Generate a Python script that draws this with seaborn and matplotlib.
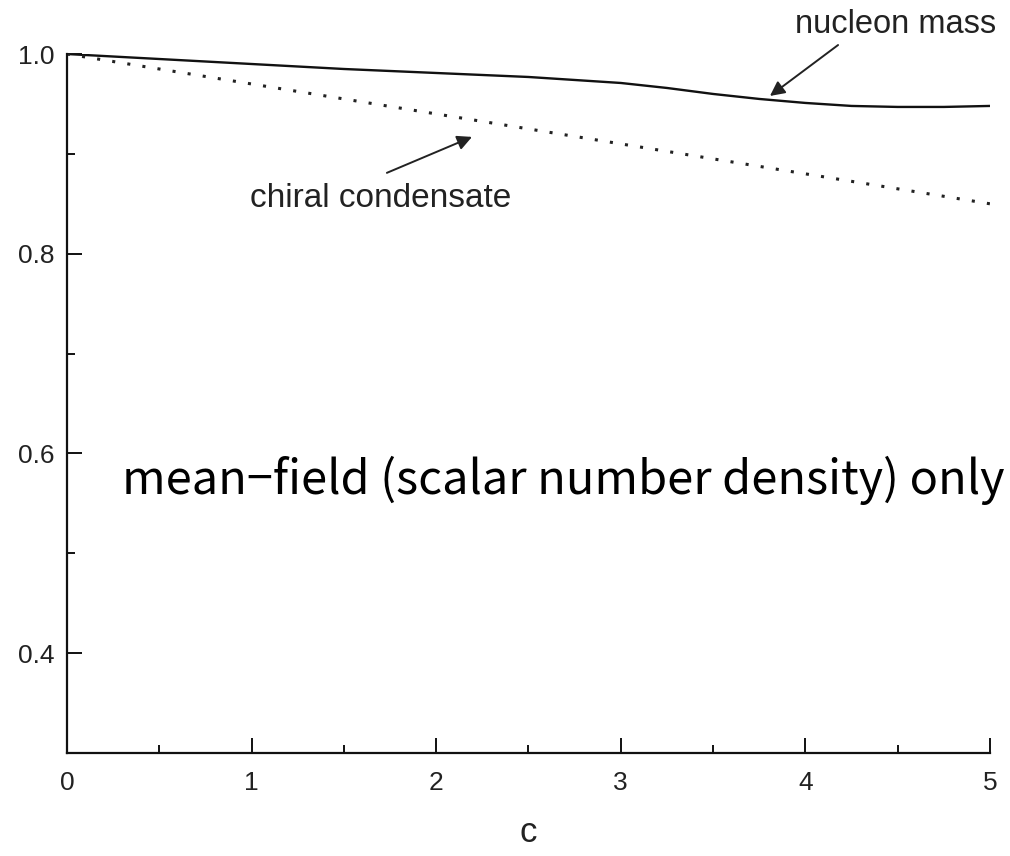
import matplotlib
matplotlib.use("Agg")
import matplotlib.pyplot as plt
from matplotlib.ticker import MultipleLocator
import seaborn as sns
import pandas as pd

# Nucleon mass ratio vs. c (solid curve)
c_mass = [0.0, 0.5, 1.0, 1.5, 2.0, 2.5, 3.0, 3.25, 3.5, 3.75, 4.0, 4.25, 4.5, 4.75, 5.0]
nucleon_mass = [1.000, 0.995, 0.990, 0.985, 0.981, 0.977, 0.971, 0.966, 0.960,
                0.955, 0.951, 0.948, 0.947, 0.947, 0.948]

# Chiral condensate ratio vs. c (dotted curve)
c_cond = [0.0, 1.0, 2.0, 3.0, 4.0, 5.0]
chiral_condensate = [1.000, 0.970, 0.940, 0.910, 0.880, 0.850]

x_ticks = [0, 1, 2, 3, 4, 5]
y_ticks = [0.4, 0.6, 0.8, 1.0]
y_tick_labels = ["0.4", "0.6", "0.8", "1.0"]

sns.set_style("ticks")
plt.rcParams["font.family"] = ["Liberation Sans", "DejaVu Sans"]

fig = plt.figure(figsize=(10.1, 8.56), dpi=100)
ax = fig.add_axes([0.0663, 0.1203, 0.9139, 0.8166])

df_mass = pd.DataFrame({"c": c_mass, "ratio": nucleon_mass})
df_cond = pd.DataFrame({"c": c_cond, "ratio": chiral_condensate})

sns.lineplot(data=df_mass, x="c", y="ratio", ax=ax, color="#111111",
             linewidth=1.7, solid_capstyle="butt")
sns.lineplot(data=df_cond, x="c", y="ratio", ax=ax, color="#222222",
             linewidth=2.2, linestyle=(0, (1, 4)))

ax.set_xlim(0, 5)
ax.set_ylim(0.3, 1.0)
ax.set_xticks(x_ticks)
ax.set_xticklabels([str(t) for t in x_ticks])
ax.set_yticks(y_ticks)
ax.set_yticklabels(y_tick_labels)
ax.xaxis.set_minor_locator(MultipleLocator(0.5))
ax.yaxis.set_minor_locator(MultipleLocator(0.1))

sns.despine(ax=ax)
for side in ("left", "bottom"):
    ax.spines[side].set_linewidth(1.6)
    ax.spines[side].set_color("#111111")

ax.tick_params(which="major", direction="in", length=10.5, width=1.4,
               colors="#111111", labelsize=19, labelcolor="#222222")
ax.tick_params(which="minor", direction="in", length=6, width=1.4,
               colors="#111111")
ax.tick_params(axis="x", which="major", pad=13)
ax.tick_params(axis="y", which="major", pad=9)

ax.set_xlabel("c", fontsize=25, color="#222222", labelpad=15)
ax.set_ylabel("")

# Curve labels with arrows
ax.text(3.944, 1.021, "nucleon mass", fontsize=23.5, color="#222222",
        ha="left", va="baseline", clip_on=False)
ax.annotate("", xy=(3.808, 0.958), xytext=(4.177, 1.009),
            arrowprops=dict(arrowstyle="-|>", color="#222222", lw=1.4,
                            mutation_scale=22, shrinkA=0, shrinkB=0),
            annotation_clip=False)

ax.text(0.991, 0.847, "chiral condensate", fontsize=24, color="#222222",
        ha="left", va="baseline")
ax.annotate("", xy=(2.194, 0.917), xytext=(1.733, 0.881),
            arrowprops=dict(arrowstyle="-|>", color="#222222", lw=1.4,
                            mutation_scale=22, shrinkA=0, shrinkB=0))

ax.text(0.298, 0.559, "mean\u2212field (scalar number density) only",
        fontsize=33.8, color="black", ha="left", va="baseline",
        family=["Noto Sans CJK KR", "DejaVu Sans"])

fig.savefig("out.png", dpi=100, facecolor="white")
